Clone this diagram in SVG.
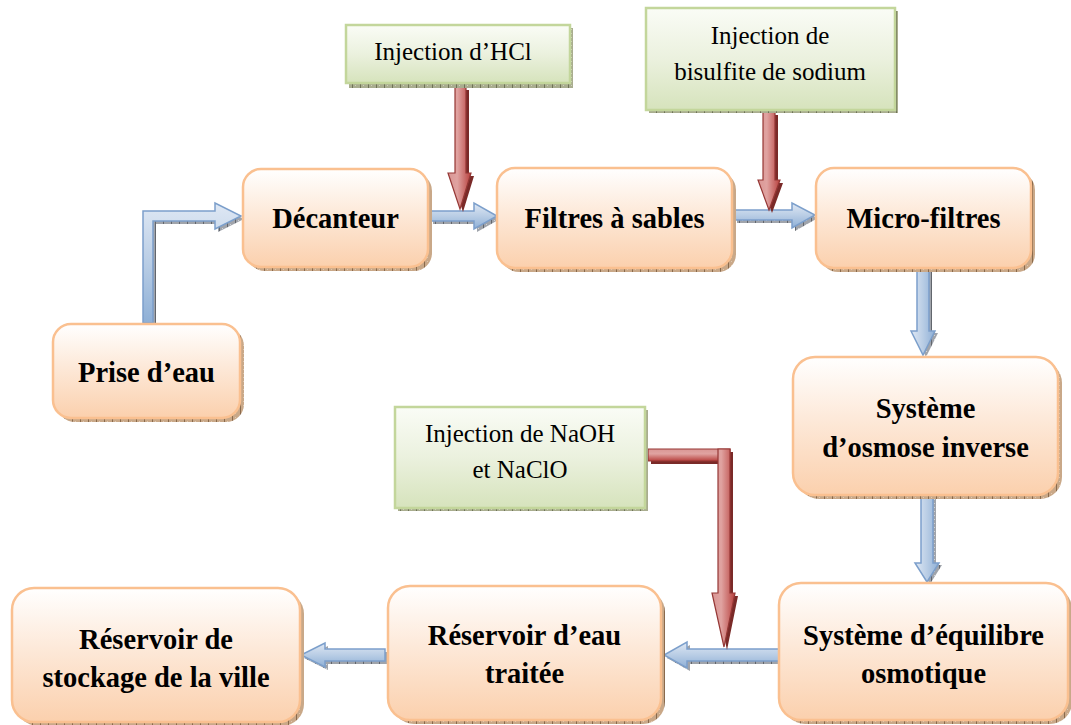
<svg xmlns="http://www.w3.org/2000/svg" width="1071" height="725" viewBox="0 0 1071 725">
<defs>
<linearGradient id="gOrange" x1="0" y1="0" x2="0" y2="1">
<stop offset="0" stop-color="#ffffff"/><stop offset="0.45" stop-color="#fde9d9"/><stop offset="1" stop-color="#fbd0ad"/>
</linearGradient>
<linearGradient id="gGreen" x1="0" y1="0" x2="0" y2="1">
<stop offset="0" stop-color="#fafcf6"/><stop offset="0.5" stop-color="#ebf1de"/><stop offset="1" stop-color="#d6e3bc"/>
</linearGradient>
<linearGradient id="gBlueH" x1="0" y1="0" x2="0" y2="1">
<stop offset="0" stop-color="#dfe8f4"/><stop offset="0.5" stop-color="#b9cde5"/><stop offset="1" stop-color="#8eafd6"/>
</linearGradient>
<linearGradient id="gBlueV" x1="0" y1="0" x2="1" y2="0">
<stop offset="0" stop-color="#dfe8f4"/><stop offset="0.5" stop-color="#b9cde5"/><stop offset="1" stop-color="#8eafd6"/>
</linearGradient>
<linearGradient id="gRedV" x1="0" y1="0" x2="1" y2="0">
<stop offset="0" stop-color="#d99694"/><stop offset="0.4" stop-color="#e0a3a1"/><stop offset="1" stop-color="#b8413e"/>
</linearGradient>
<linearGradient id="gRedH" x1="0" y1="0" x2="0" y2="1">
<stop offset="0" stop-color="#d99694"/><stop offset="0.4" stop-color="#e0a3a1"/><stop offset="1" stop-color="#b8413e"/>
</linearGradient>
<pattern id="hatchO" width="8" height="4" patternUnits="userSpaceOnUse">
<rect width="8" height="4" fill="#c9a888"/><rect width="1" height="4" fill="#8a6a4c"/><rect x="3" y="1" width="1" height="1" fill="#e0c8b0"/>
</pattern>
<pattern id="hatchG" width="8" height="4" patternUnits="userSpaceOnUse">
<rect width="8" height="4" fill="#a9ad8f"/><rect width="1" height="4" fill="#6f7358"/><rect x="3" y="1" width="1" height="1" fill="#d0d3bd"/>
</pattern>
<pattern id="hatchB" width="8" height="4" patternUnits="userSpaceOnUse">
<rect width="8" height="4" fill="#a0a4ab"/><rect width="1" height="4" fill="#62666d"/><rect x="3" y="1" width="1" height="1" fill="#d0d3d8"/>
</pattern>
</defs>
<style>
.box{fill:url(#gOrange);stroke:#fac090;stroke-width:2.5}
.bsh{fill:url(#hatchO)}
.gbox{fill:url(#gGreen);stroke:#c3d69b;stroke-width:2.5}
.gsh{fill:url(#hatchG)}
.lbl{font-weight:bold;font-size:28.5px;fill:#000;text-anchor:middle}
.glbl{font-size:25px;fill:#000;text-anchor:middle}
.bh{fill:url(#gBlueH);stroke:#7c9fcb;stroke-width:1.5}
.bv{fill:url(#gBlueV);stroke:#7c9fcb;stroke-width:1.5}
.ash{fill:url(#hatchB)}
.rv{fill:url(#gRedV);stroke:#953735;stroke-width:1.2}
.rh{fill:url(#gRedH);stroke:#953735;stroke-width:1.2}
.rsh{fill:#7a2a28}
</style>

<g id="connectors">
<path class="ash" transform="translate(3,3)" d="M143 323 V211 H215 V203 L241 216 L215 229 V221 H153 V323 Z"/>
<path class="bh" d="M143 323 V211 H215 V203 L241 216 L215 229 V221 H153 V323 Z"/>
<path class="ash" transform="translate(3,3)" d="M430 211 H474 V203 L497 216 L474 229 V221 H430 Z"/>
<path class="bh" d="M430 211 H474 V203 L497 216 L474 229 V221 H430 Z"/>
<path class="ash" transform="translate(3,3)" d="M734 210 H792 V203 L815 215 L792 228 V220 H734 Z"/>
<path class="bh" d="M734 210 H792 V203 L815 215 L792 228 V220 H734 Z"/>
<path class="ash" transform="translate(3,2)" d="M917 269 V331 H911 L923 355 L935 331 H929 V269 Z"/>
<path class="bv" d="M917 269 V331 H911 L923 355 L935 331 H929 V269 Z"/>
<path class="ash" transform="translate(3,2)" d="M921 496 V563 H915 L927 582 L939 563 H933 V496 Z"/>
<path class="bv" d="M921 496 V563 H915 L927 582 L939 563 H933 V496 Z"/>
<path class="ash" transform="translate(3,3)" d="M779 649 H687 V642 L664 655 L687 668 V661 H779 Z"/>
<path class="bh" d="M779 649 H687 V642 L664 655 L687 668 V661 H779 Z"/>
<path class="ash" transform="translate(3,3)" d="M385 649 H325 V643 L301 655 L325 667 V661 H385 Z"/>
<path class="bh" d="M385 649 H325 V643 L301 655 L325 667 V661 H385 Z"/>
<path class="rsh" transform="translate(3,3)" d="M455 87 V173 H448 L460 209 L471 173 H466 V87 Z"/>
<path class="rv" d="M455 87 V173 H448 L460 209 L471 173 H466 V87 Z"/>
<path class="rsh" transform="translate(3,3)" d="M763 112 V180 H758 L769 210 L780 180 H775 V112 Z"/>
<path class="rv" d="M763 112 V180 H758 L769 210 L780 180 H775 V112 Z"/>
<path class="rsh" transform="translate(3,3)" d="M648 449 H730 V593 H735 L724 647 L712 593 H718 V461 H648 Z"/>
<path class="rh" d="M648 449 H730 V461 H648 Z"/>
<path class="rv" d="M718 449 H730 V593 H735 L724 647 L712 593 H718 Z"/>
</g>

<g font-family="'Liberation Serif', 'Times New Roman', Tinos, 'DejaVu Serif', serif">
<g id="prise">
<rect class="bsh" x="57" y="328" width="187" height="94" rx="18"/>
<rect class="box" x="53" y="324" width="187" height="94" rx="18"/>
<text class="lbl" x="146.5" y="382">Prise d’eau</text>
</g>
<g id="decanteur">
<rect class="bsh" x="247" y="173" width="185" height="98" rx="18"/>
<rect class="box" x="243" y="169" width="185" height="98" rx="18"/>
<text class="lbl" x="335.5" y="228">Décanteur</text>
</g>
<g id="filtres">
<rect class="bsh" x="501" y="172" width="235" height="100" rx="18"/>
<rect class="box" x="497" y="168" width="235" height="100" rx="18"/>
<text class="lbl" x="614.5" y="228">Filtres à sables</text>
</g>
<g id="micro">
<rect class="bsh" x="820" y="172" width="215" height="100" rx="18"/>
<rect class="box" x="816" y="168" width="215" height="100" rx="18"/>
<text class="lbl" x="923.5" y="228">Micro-filtres</text>
</g>
<g id="osmose">
<rect class="bsh" x="797" y="361" width="265" height="138" rx="22"/>
<rect class="box" x="793" y="357" width="265" height="138" rx="22"/>
<text class="lbl" x="925.5" y="418">Système</text>
<text class="lbl" x="925.5" y="457">d’osmose inverse</text>
</g>
<g id="equilibre">
<rect class="bsh" x="783" y="587" width="289" height="137" rx="22"/>
<rect class="box" x="779" y="583" width="289" height="137" rx="22"/>
<text class="lbl" x="923.5" y="645">Système d’équilibre</text>
<text class="lbl" x="923.5" y="683">osmotique</text>
</g>
<g id="reservoir-traitee">
<rect class="bsh" x="392" y="590" width="273" height="134" rx="22"/>
<rect class="box" x="388" y="586" width="273" height="134" rx="22"/>
<text class="lbl" x="524.5" y="645">Réservoir d’eau</text>
<text class="lbl" x="524.5" y="683">traitée</text>
</g>
<g id="stockage">
<rect class="bsh" x="16" y="592" width="288" height="134" rx="22"/>
<rect class="box" x="12" y="588" width="288" height="134" rx="22"/>
<text class="lbl" x="156" y="649">Réservoir de</text>
<text class="lbl" x="156" y="687">stockage de la ville</text>
</g>
<g id="inj-hcl">
<rect class="gsh" x="349" y="28" width="224" height="60"/>
<rect class="gbox" x="346" y="25" width="224" height="58"/>
<text class="glbl" x="453" y="60">Injection d’HCl</text>
</g>
<g id="inj-bisulfite">
<rect class="gsh" x="649" y="11" width="249" height="102"/>
<rect class="gbox" x="646" y="8" width="249" height="102"/>
<text class="glbl" x="770" y="44">Injection de</text>
<text class="glbl" x="770" y="80">bisulfite de sodium</text>
</g>
<g id="inj-naoh">
<rect class="gsh" x="398" y="410" width="250" height="101"/>
<rect class="gbox" x="395" y="407" width="250" height="101"/>
<text class="glbl" x="520" y="442">Injection de NaOH</text>
<text class="glbl" x="520" y="478">et NaClO</text>
</g>
</g>
</svg>
